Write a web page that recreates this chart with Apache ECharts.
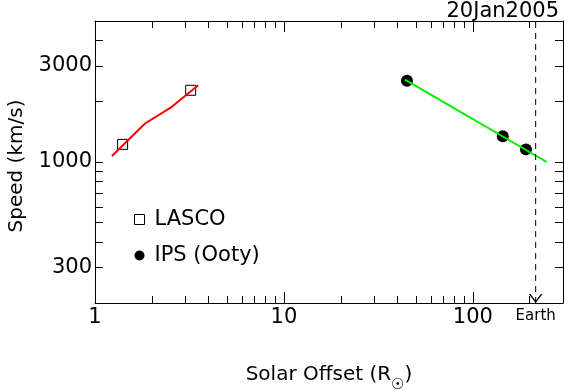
<!DOCTYPE html>
<html lang="en">
<head>
    <meta charset="UTF-8">
    <title>Speed vs Solar Offset</title>
    <script src="https://cdn.jsdelivr.net/npm/echarts@6/dist/echarts.min.js"></script>
    <style>
        html, body { margin: 0; padding: 0; background: #fff; }
        #main { width: 565px; height: 390px; }
    </style>
</head>
<body>
<div id="main"></div>

<script type="text/javascript">
    // tick positions (log axes)
    var xMajorTicks = [1, 10, 100];
    var xMinorTicks = [2, 3, 4, 5, 6, 7, 8, 9, 20, 30, 40, 50, 60, 70, 80, 90, 200];
    var yTicks = [300, 400, 500, 600, 700, 800, 900, 1000, 2000, 3000, 4000];
    var yLabels = [300, 1000, 3000];

    // LASCO height-time fit (red) and measured points
    var lascoFitX = [1.23, 1.84, 2.55, 3.52];
    var lascoFitY = [1071, 1552, 1877, 2399];
    var lascoX = [1.40, 3.21];
    var lascoY = [1223, 2267];

    // IPS (Ooty) power law fit (green) and measured points
    var ipsFitX = [43.7, 246];
    var ipsFitY = [2560, 1000];
    var ipsX = [44.8, 144, 191];
    var ipsY = [2530, 1340, 1155];

    var earthX = 215;
    var xMin = 1, xMax = 300, yMin = 200, yMax = 5000;

    function pairs(xs, ys) {
        return xs.map(function (x, i) { return [x, ys[i]]; });
    }

    var font = "'DejaVu Sans'";
    var black = '#000';

    function xAxisDef(pos, ticks, len, withLine, withLabels) {
        return {
            type: 'log', logBase: 10, min: xMin, max: xMax, position: pos, gridIndex: 0,
            axisLine: { show: withLine, lineStyle: { color: black, width: 1 } },
            axisTick: { show: true, inside: true, length: len, customValues: ticks, lineStyle: { color: black, width: 1 } },
            axisLabel: {
                show: withLabels, customValues: xMajorTicks, margin: 4,
                color: black, fontFamily: font, fontSize: 21,
                formatter: function (v) { return Math.round(v) + ''; }
            },
            splitLine: { show: false },
            minorTick: { show: false }
        };
    }

    function yAxisDef(pos, withLabels) {
        return {
            type: 'log', logBase: 10, min: yMin, max: yMax, position: pos, gridIndex: 0,
            axisLine: { show: true, lineStyle: { color: black, width: 1 } },
            axisTick: { show: true, inside: true, length: 8, customValues: yTicks, lineStyle: { color: black, width: 1 } },
            axisLabel: {
                show: withLabels, customValues: yLabels, margin: 3,
                color: black, fontFamily: font, fontSize: 21,
                formatter: function (v) { return Math.round(v) + ''; }
            },
            splitLine: { show: false },
            minorTick: { show: false }
        };
    }

    var xAxes = [
        xAxisDef('bottom', xMajorTicks, 11, true, true),
        xAxisDef('bottom', xMinorTicks, 7, false, false),
        xAxisDef('top', xMajorTicks, 11, true, false),
        xAxisDef('top', xMinorTicks, 7, false, false)
    ];
    xAxes[0].name = 'Solar Offset (R{sub|\u2609})';
    xAxes[0].nameLocation = 'middle';
    xAxes[0].nameGap = 54;
    xAxes[0].nameTextStyle = {
        color: black, fontFamily: font, fontSize: 20, lineHeight: 30,
        rich: { sub: { fontSize: 15, color: black, fontFamily: font, lineHeight: 36, verticalAlign: 'bottom' } }
    };

    var yAxes = [yAxisDef('left', true), yAxisDef('right', false)];
    yAxes[0].name = 'Speed (km/s)';
    yAxes[0].nameLocation = 'middle';
    yAxes[0].nameGap = 68;
    yAxes[0].nameTextStyle = { color: black, fontFamily: font, fontSize: 20, padding: [0, 8, 0, 0] };

    var chart = echarts.init(document.getElementById('main'), null, { renderer: 'canvas' });

    chart.setOption({
        animation: false,
        backgroundColor: '#fff',
        title: {
            text: '20Jan2005', right: 1, top: -4,
            textStyle: { color: black, fontFamily: font, fontSize: 21, fontWeight: 'normal' }
        },
        grid: { left: 95, right: 2, top: 21, bottom: 87, outerBoundsMode: 'none' },
        legend: {
            orient: 'vertical', left: 134, top: 209, itemWidth: 10, itemHeight: 10, itemGap: 15,
            selectedMode: false, padding: 0,
            textStyle: { color: black, fontFamily: font, fontSize: 21, padding: [0, 0, 0, 5] },
            data: [
                { name: 'LASCO', icon: 'rect', itemStyle: { color: '#fff', borderColor: black, borderWidth: 1, opacity: 1 } },
                { name: 'IPS (Ooty)', icon: 'circle', itemStyle: { color: black, borderWidth: 0, opacity: 1 } }
            ]
        },
        xAxis: xAxes,
        yAxis: yAxes,
        series: [
            {
                name: 'LASCO fit', type: 'line', symbol: 'none',
                lineStyle: { color: '#ff0000', width: 2 },
                data: pairs(lascoFitX, lascoFitY)
            },
            {
                name: 'LASCO', type: 'scatter', symbol: 'rect', symbolSize: 10,
                itemStyle: { color: 'rgba(0,0,0,0)', borderColor: black, borderWidth: 1, opacity: 1 },
                data: pairs(lascoX, lascoY)
            },
            {
                name: 'IPS fit', type: 'line', symbol: 'none',
                lineStyle: { color: '#00ee00', width: 2 },
                data: pairs(ipsFitX, ipsFitY)
            },
            {
                name: 'IPS (Ooty)', type: 'scatter', symbol: 'circle', symbolSize: 12,
                itemStyle: { color: black, opacity: 1 },
                data: pairs(ipsX, ipsY)
            },
            {
                name: 'Earth line', type: 'line', symbol: 'none',
                lineStyle: { color: black, width: 1, type: [6, 5] },
                data: [[earthX, yMin], [earthX, yMax]]
            },
            {
                name: 'Earth', type: 'scatter', symbol: 'path://M0,0 L6,8 L12,0',
                symbolSize: [12, 8], symbolOffset: [0, -5],
                itemStyle: { color: 'rgba(0,0,0,0)', borderColor: black, borderWidth: 1.2, opacity: 1 },
                label: {
                    show: true, position: 'bottom', distance: 6, formatter: 'Earth',
                    color: black, fontFamily: font, fontSize: 15
                },
                data: [[earthX, yMin]]
            }
        ]
    });
</script>
</body>
</html>
